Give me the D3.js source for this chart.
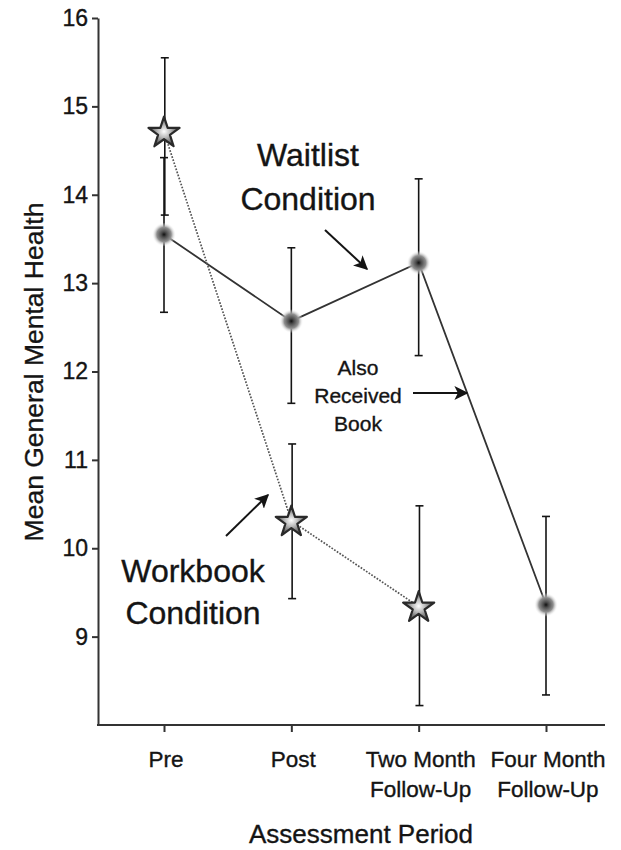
<!DOCTYPE html>
<html>
<head>
<meta charset="utf-8">
<script src="https://cdn.jsdelivr.net/npm/d3@7"></script>
<style>
  html, body { margin: 0; padding: 0; background: #fff; }
  svg { display: block; font-family: "Liberation Sans", Arial, sans-serif; }
  svg text { stroke: #141414; stroke-width: 0.35px; }
</style>
</head>
<body>
<svg id="chart" width="621" height="850"></svg>
<script>
// ---- data ----
const periods = ["Pre", "Post", "Two Month Follow-Up", "Four Month Follow-Up"];
const periodLines = [["Pre"], ["Post"], ["Two Month", "Follow-Up"], ["Four Month", "Follow-Up"]];
const yTicks = [9, 10, 11, 12, 13, 14, 15, 16];

const waitlistMean = [13.55, 12.57, 13.23, 9.36];
const waitlistLow  = [12.67, 11.64, 12.18, 8.34];
const waitlistHigh = [14.42, 13.40, 14.18, 10.36];

const workbookMean = [14.71, 10.31, 9.34];
const workbookLow  = [13.77, 9.43, 8.22];
const workbookHigh = [15.55, 11.18, 10.48];

(function () {
// ---- layout ----
const svg = d3.select("#chart");
const mLeft = 98, mRight = 605, mTop = 18, mBottom = 725;
const ink = "#141414";
const font = "'Liberation Sans', Arial, Helvetica, sans-serif";

const x = d3.scalePoint().domain(periods).range([164, 546]);
const y = d3.scaleLinear().domain([8, 16]).range([mBottom, mTop]);

// defs
const defs = svg.append("defs");
const cg = defs.append("radialGradient").attr("id", "circGrad");
cg.append("stop").attr("offset", "0%").attr("stop-color", "#111");
cg.append("stop").attr("offset", "22%").attr("stop-color", "#4a4a4a");
cg.append("stop").attr("offset", "60%").attr("stop-color", "#8f8f8f");
cg.append("stop").attr("offset", "100%").attr("stop-color", "#fff").attr("stop-opacity", 0);

const sg = defs.append("radialGradient").attr("id", "starGrad");
sg.append("stop").attr("offset", "0%").attr("stop-color", "#fff");
sg.append("stop").attr("offset", "40%").attr("stop-color", "#bdbdbd");
sg.append("stop").attr("offset", "100%").attr("stop-color", "#444");

defs.append("marker").attr("id", "arrow")
  .attr("viewBox", "0 0 10 10").attr("refX", 9).attr("refY", 5)
  .attr("markerWidth", 7).attr("markerHeight", 7).attr("orient", "auto")
  .attr("markerUnits", "strokeWidth")
  .append("path").attr("d", "M0,0 L10,5 L0,10 L2.5,5 Z").attr("fill", ink);

// axes
const yAxis = d3.axisLeft(y).tickValues(yTicks).tickSize(6).tickSizeOuter(0).tickPadding(4);
const gy = svg.append("g").attr("transform", `translate(${mLeft},0)`).call(yAxis);
gy.select(".domain").attr("stroke", "#333").attr("stroke-width", 2);
gy.selectAll(".tick line").attr("stroke", "#333").attr("stroke-width", 2);
gy.selectAll(".tick text").attr("fill", ink).attr("font-size", 23).attr("font-family", font);

const xAxis = d3.axisBottom(x).tickSize(7).tickSizeOuter(0).tickFormat("");
const gx = svg.append("g").attr("transform", `translate(0,${mBottom})`).call(xAxis);
gx.select(".domain").remove();
gx.selectAll(".tick line").attr("stroke", "#333").attr("stroke-width", 2);
gx.append("line").attr("x1", mLeft - 1).attr("x2", mRight).attr("y1", 0).attr("y2", 0)
  .attr("stroke", "#333").attr("stroke-width", 2);

// x tick labels (multi-line)
periods.forEach((p, i) => {
  const t = svg.append("text").attr("text-anchor", "middle").attr("fill", ink)
    .attr("font-size", 22.5).attr("font-family", font).attr("x", x(p));
  periodLines[i].forEach((ln, j) => {
    t.append("tspan").attr("x", x(p) + 2).attr("y", 767 + j * 30).text(ln);
  });
});

// axis titles
svg.append("text").attr("x", 361).attr("y", 843)
  .attr("text-anchor", "middle").attr("font-size", 26).attr("fill", ink).attr("font-family", font)
  .text("Assessment Period");
svg.append("text").attr("transform", `translate(43,${372}) rotate(-90)`)
  .attr("text-anchor", "middle").attr("font-size", 26.5).attr("fill", ink).attr("font-family", font)
  .text("Mean General Mental Health");

// error bars
function errorBars(means, lows, highs, dx) {
  const g = svg.append("g").attr("stroke", ink).attr("stroke-width", 1.6);
  means.forEach((m, i) => {
    const cx = x(periods[i]) + dx;
    g.append("line").attr("x1", cx).attr("x2", cx).attr("y1", y(lows[i])).attr("y2", y(highs[i]));
    [lows[i], highs[i]].forEach(v => {
      g.append("line").attr("x1", cx - 4).attr("x2", cx + 4).attr("y1", y(v)).attr("y2", y(v));
    });
  });
}
errorBars(waitlistMean, waitlistLow, waitlistHigh, 0);
errorBars(workbookMean, workbookLow, workbookHigh, 0.8);

// lines
const line = d3.line().x((d, i) => x(periods[i])).y(d => y(d));
svg.append("path").datum(waitlistMean).attr("d", line)
  .attr("fill", "none").attr("stroke", "#333").attr("stroke-width", 1.8);
svg.append("path").datum(workbookMean).attr("d", line)
  .attr("fill", "none").attr("stroke", "#555").attr("stroke-width", 1.7)
  .attr("stroke-dasharray", "1.7,1.5");

// markers
svg.append("g").selectAll("circle").data(waitlistMean).join("circle")
  .attr("cx", (d, i) => x(periods[i])).attr("cy", d => y(d))
  .attr("r", 12).attr("fill", "url(#circGrad)");

const star = d3.symbol().type(d3.symbolStar).size(300);
svg.append("g").selectAll("path").data(workbookMean).join("path")
  .attr("d", star)
  .attr("transform", (d, i) => `translate(${x(periods[i])},${y(d) + 1})`)
  .attr("fill", "url(#starGrad)").attr("stroke", "#2a2a2a").attr("stroke-width", 2.2)
  .attr("stroke-linejoin", "round");

// annotations
function label(lines, cx, y0, dy, size) {
  const t = svg.append("text").attr("text-anchor", "middle").attr("fill", ink)
    .attr("font-size", size).attr("font-family", font);
  lines.forEach((ln, j) => t.append("tspan").attr("x", cx).attr("y", y0 + j * dy).text(ln));
}
label(["Waitlist", "Condition"], 308, 166, 44, 32);
label(["Workbook", "Condition"], 193, 582, 42, 32);
label(["Also", "Received", "Book"], 358, 375, 28, 21);

function arrow(x1, y1, x2, y2) {
  svg.append("line").attr("x1", x1).attr("y1", y1).attr("x2", x2).attr("y2", y2)
    .attr("stroke", ink).attr("stroke-width", 2).attr("marker-end", "url(#arrow)");
}
arrow(325, 230, 367, 269);
arrow(226, 536, 268, 495);
arrow(413, 393, 467, 393);
})();
</script>
</body>
</html>
